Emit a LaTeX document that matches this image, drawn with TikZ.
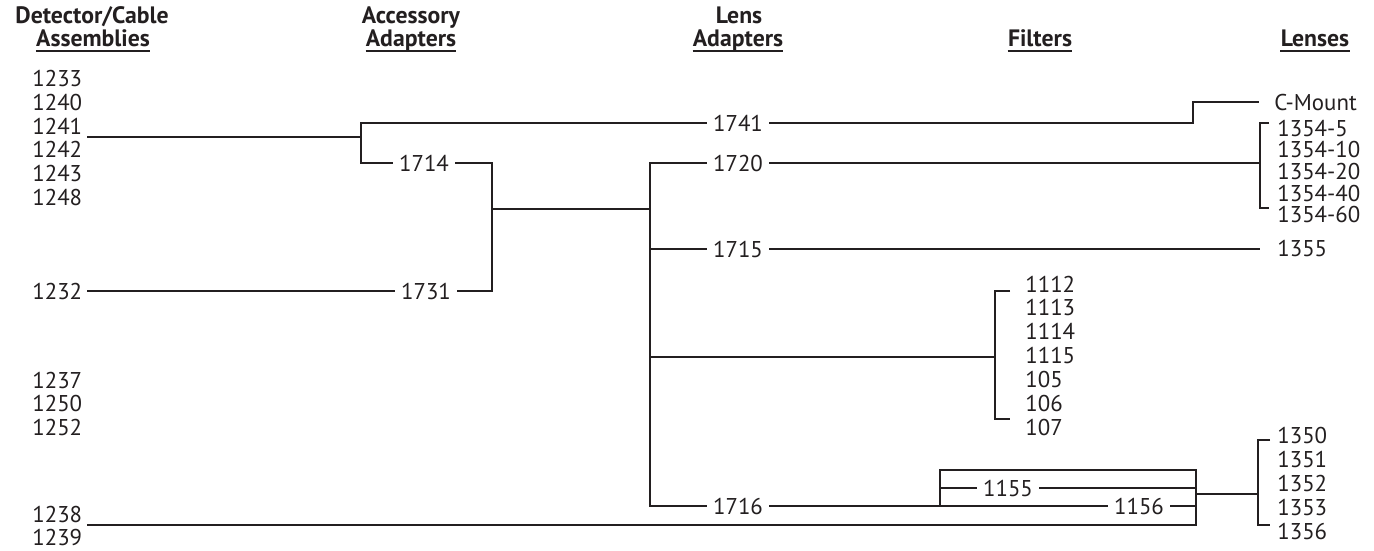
\documentclass[tikz,border=0pt]{standalone}
\usepackage{fontspec}
\setmainfont{PT Sans}
\usetikzlibrary{positioning}
\definecolor{ink}{HTML}{231F20}
\tikzset{
  every node/.style={font=\fontsize{13}{14}\selectfont, text=ink},
  header/.style={font=\fontsize{13.5}{15}\selectfont\bfseries, inner sep=0pt, anchor=base},
  part/.style={inner sep=0pt, anchor=west},
  tag/.style={inner xsep=3.5pt, inner ysep=0pt},
  link/.style={draw=ink, line width=1.2pt},
  rule/.style={draw=ink, line width=0.85pt},
}

\begin{document}
\begin{tikzpicture}[x=0.2mm, y=-0.2mm]
  \useasboundingbox (0,0) rectangle (1374,550);
  % column headers
  \node[header] (h1a) at (92,23) {Detector/Cable};
  \node[header] (h1b) at (93,46) {Assemblies};
  \node[header] (h2a) at (411,23) {Accessory};
  \node[header] (h2b) at (411,46) {Adapters};
  \node[header] (h3a) at (739,23) {Lens};
  \node[header] (h3b) at (738,46) {Adapters};
  \node[header] (h4b) at (1040,46) {Filters};
  \node[header] (h5b) at (1315,46) {Lenses};
  \foreach \h in {h1b,h2b,h3b,h4b,h5b}
    \draw[rule] ([yshift=-2.9pt]\h.base west) -- ([yshift=-2.9pt]\h.base east);

  % detector / cable assemblies
  \foreach \n [count=\i from 0] in {1233,1240,1241,1242,1243,1248}
    \node[part] (dA\i) at (32,{78.5+23.7*\i}) {\n};
  \node[part] (dB) at (32,291) {1232};
  \foreach \n [count=\i from 0] in {1237,1250,1252}
    \node[part] (dC\i) at (32,{380+23.5*\i}) {\n};
  \foreach \n [count=\i from 0] in {1238,1239}
    \node[part] (dD\i) at (32,{514+23.5*\i}) {\n};

  % accessory and lens adapters
  \node[tag] (a1714) at (424,163) {1714};
  \node[tag] (a1731) at (426,291) {1731};
  \node[tag] (l1741) at (738,123) {1741};
  \node[tag] (l1720) at (738,163) {1720};
  \node[tag] (l1715) at (738,249) {1715};
  \node[tag] (l1716) at (738,506) {1716};

  % filters
  \node[tag] (f1155) at (1008,488) {1155};
  \node[tag] (f1156) at (1139,506) {1156};
  \foreach \n [count=\i from 0] in {1112,1113,1114,1115,105,106,107}
    \node[part] (f\i) at (1025,{284+23.9*\i}) {\n};

  % lenses
  \node[part] (cmount) at (1274,102) {C-Mount};
  \foreach \n [count=\i from 0] in {1354-5,1354-10,1354-20,1354-40,1354-60}
    \node[part] (lA\i) at (1277,{128+21.7*\i}) {\n};
  \node[part] (l1355) at (1277,248) {1355};
  \foreach \n [count=\i from 0] in {1350,1351,1352,1353,1356}
    \node[part] (lB\i) at (1277,{435+24*\i}) {\n};

  % junctions and free ends
  \coordinate (sA) at (87,137);
  \coordinate (sB) at (87,291);
  \coordinate (sD) at (87,525);
  \coordinate (jA) at (361,137);
  \coordinate (jB) at (492,209);
  \coordinate (jC) at (650,209);
  \coordinate (cmBend) at (1193,123);
  \coordinate (cmEnd) at (1259,102);
  \coordinate (lensA) at (1260,163);
  \coordinate (lensAtop) at (1260,123);
  \coordinate (lensAbot) at (1260,208);
  \coordinate (fBr) at (995,357);
  \coordinate (fTop) at (995,291);
  \coordinate (fBot) at (995,419);
  \coordinate (boxL) at (940,470);
  \coordinate (boxR) at (1196,470);
  \coordinate (lensB) at (1258,494);
  \coordinate (lensBtop) at (1258,440);
  \coordinate (lensBbot) at (1258,525);

  % connectors
  \draw[link] (sA) -- (jA);
  \draw[link] (l1741) -- (jA |- l1741) -- (jA |- a1714) -- (a1714);
  \draw[link] (l1741) -- (cmBend) |- (cmEnd);
  \draw[link] (a1714) -| (jB |- a1731) -- (a1731);
  \draw[link] (sB) -- (a1731);
  \draw[link] (jB) -- (jC);
  \draw[link] (l1720) -| (jC |- l1716) -- (l1716);
  \draw[link] (l1720) -- (lensA);
  \draw[link] (lensAtop) ++(9,0) -- (lensAtop) -- (lensAbot) -- ++(9,0);
  \draw[link] (jC |- l1715) -- (l1715) -- (l1715 -| lensA);
  \draw[link] (jC |- fBr) -- (fBr);
  \draw[link] (fTop) ++(15,0) -- (fTop) -- (fBot) -- ++(15,0);
  \draw[link] (l1716) -- (f1156);
  \draw[link] (f1156) -- (f1156 -| boxR);
  \draw[link] (boxL |- l1716) -- (boxL) -- (boxR) -- (boxR |- sD) -- (sD);
  \draw[link] (boxL |- f1155) -- (f1155) -- (f1155 -| boxR);
  \draw[link] (boxR |- lensB) -- (lensB);
  \draw[link] (lensBtop) ++(12,0) -- (lensBtop) -- (lensBbot) -- ++(12,0);
\end{tikzpicture}
\end{document}
